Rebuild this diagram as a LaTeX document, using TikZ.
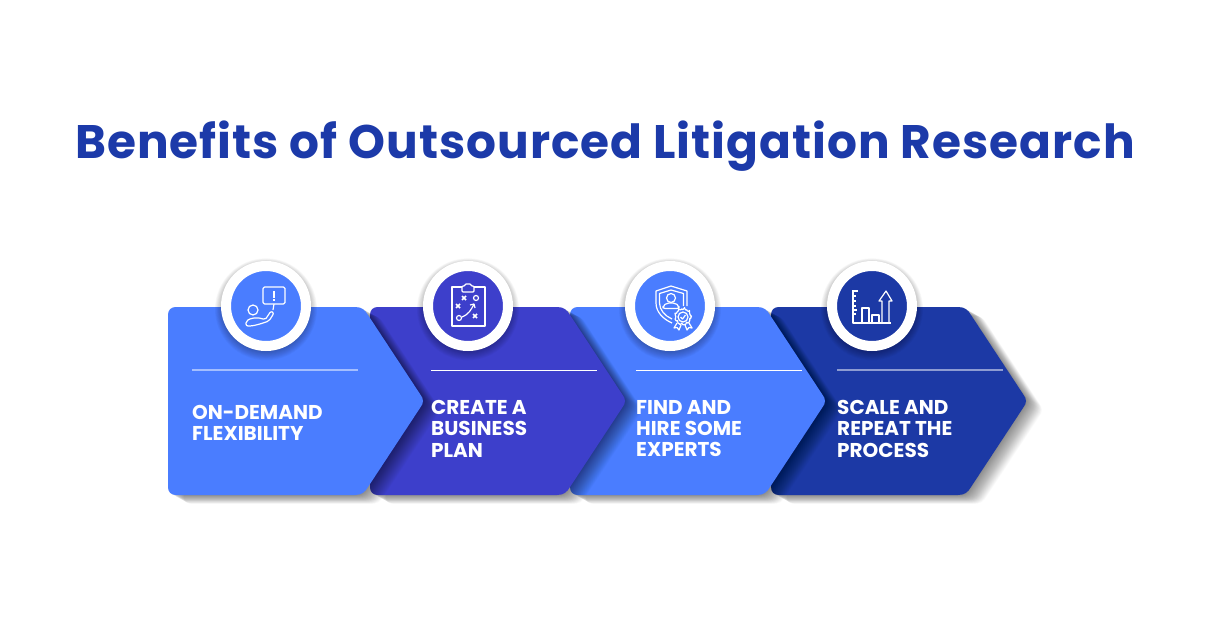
\documentclass[tikz,border=0pt]{standalone}
\usepackage{fontspec}
\setmainfont{Poppins}
\newfontfamily\titlefont[LetterSpace=2.1]{Poppins}
\newfontfamily\labelfont{Poppins}
\usetikzlibrary{positioning,calc}
\definecolor{titleblue}{HTML}{1C3AA9}
\definecolor{lightblue}{HTML}{4A7DFF}
\definecolor{midviolet}{HTML}{3D3FCB}
\definecolor{darkblue}{HTML}{1C39A5}

% arrow shaped panel, arg: left x
\newcommand{\panelshape}[1]{
  (#1+8,307) -- (#1+187,307) .. controls (#1+194,307) and (#1+197,310) .. (#1+200,315)
  -- (#1+252,394) .. controls (#1+256,399) and (#1+256,403) .. (#1+252,408)
  -- (#1+200,487) .. controls (#1+197,492) and (#1+194,495) .. (#1+187,495)
  -- (#1+8,495) .. controls (#1+3,495) and (#1,492) .. (#1,487)
  -- (#1,315) .. controls (#1,310) and (#1+3,307) .. (#1+8,307) -- cycle}
\newcommand{\panel}[2]{
  \foreach \g in {1,...,32}{
    \fill[black, opacity=0.014, yshift=-\g*0.28pt] \panelshape{#1+\g*0.5} ;
  }
  \fill[#2] \panelshape{#1};
}
% white ring with its shadow, args: name, centre x, fill colour
\newcommand{\badge}[3]{
  \foreach \g in {1,...,12}{
    \fill[black, opacity=0.028] (#2,{307.5+\g*0.15}) circle[radius={42+\g*0.75}];
  }
  \node[ring, fill=#3] (#1) at (#2,306) {};
}

\begin{document}
\begin{tikzpicture}[
    x=1pt, y=-1pt,
    ring/.style={circle, draw=white, line width=10pt, minimum size=80pt, inner sep=0pt},
    rule/.style={draw=white, line width=1pt},
    softrule/.style={line width=1.3pt},
    lbl/.style={font=\labelfont\bfseries\fontsize{20}{21.3}\selectfont, text=white, align=left, anchor=north west, inner sep=0pt,
        execute at begin node={\rule{0pt}{15pt}}},
    ico/.style={draw=white, line width=1.2pt, line join=round, fill=none}
]
    \useasboundingbox (0,0) rectangle (1209,636);
    \fill[white] (0,0) rectangle (1209,636);

    \node[font=\titlefont\bfseries\fontsize{47}{52}\selectfont, text=titleblue, inner sep=0pt] (title) at (605,146) {Benefits of Outsourced Litigation Research};

    % panels, last one first so each tip lies on the next
    \panel{771}{darkblue}
    \panel{570}{lightblue}
    \panel{370}{midviolet}
    \panel{168}{lightblue}

    % rules
    \draw[softrule, draw=white!50!lightblue] (192,370) -- (358,370);
    \draw[rule] (431,370.5) -- (597,370.5);
    \draw[rule] (636,370.5) -- (802,370.5);
    \draw[softrule, draw=white!50!darkblue] (837,370) -- (1003,370);

    % labels
    \node[lbl] (lblA) at (192,405) {ON-DEMAND\\FLEXIBILITY};
    \node[lbl] (lblB) at (431,400) {CREATE A\\BUSINESS\\PLAN};
    \node[lbl] (lblC) at (636,400) {FIND AND\\HIRE SOME\\EXPERTS};
    \node[lbl] (lblD) at (837,400) {SCALE AND\\REPEAT THE\\PROCESS};

    % badges
    \badge{ringA}{266}{lightblue}
    \badge{ringB}{468}{midviolet}
    \badge{ringC}{670}{lightblue}
    \badge{ringD}{872}{darkblue}

    % icon: hand and sign
    \begin{scope}[ico, shift={(ringA.center)}]
        \draw[rounded corners=1.5pt] (-3,-19) rectangle (19,-2);
        \draw[line width=1.6pt] (8,-15) -- (8,-8.5);
        \draw[line width=1.6pt] (8,-7) -- (8,-5);
        \draw (-13,4) circle[radius=5];
        \draw (8,-2) -- (7,4);
        \draw[rounded corners=2pt] (-20,20) -- (-20,15) -- (-14,12) -- (-5,12) -- (-1,14) -- (5,5) -- (8,7) -- (3,15) -- (-6,18) -- (-14,20) -- cycle;
    \end{scope}

    % icon: clipboard
    \begin{scope}[ico, shift={(ringB.center)}]
        \draw (-16,-19) rectangle (17,20);
        \fill[midviolet] (-6,-22) rectangle (6,-14);
        \draw[rounded corners=1pt] (-6,-20) -- (-3,-20) -- (-3,-22) -- (3,-22) -- (3,-20) -- (6,-20) -- (6,-14) -- (-6,-14) -- cycle;
        \foreach \p in {(-4,-8),(-10,0),(7,10)}{
            \draw[line width=1.5pt, shift={\p}] (-2,-2) -- (2,2) (-2,2) -- (2,-2);
        }
        \draw (8,-8) circle[radius=2.5];
        \draw (-9,12) circle[radius=2.5];
        \draw (-6,11) .. controls (1,8) and (3,4) .. (6,-2);
        \draw (2,-1) -- (6,-2) -- (7,2);
    \end{scope}

    % icon: shield with seal
    \begin{scope}[ico, shift={(ringC.center)}]
        \draw (1,-20) -- (-14,-15) -- (-14,-3) .. controls (-14,6) and (-7,13) .. (2,17);
        \draw (1,-20) -- (17,-15) -- (17,0);
        \draw (1,-16) -- (-10.5,-12.5) -- (-10.5,-3) .. controls (-10.5,4) and (-5,10) .. (2,13);
        \draw (1,-16) -- (13.5,-12.5) -- (13.5,0);
        \draw (1,-8) circle[radius=4.5];
        \draw[rounded corners=2pt] (-7,2.5) -- (-7,0) -- (-3,-3) -- (5,-3) -- (9,0) -- (9,2.5) -- cycle;
        \fill[lightblue] (13,11) circle[radius=9.5];
        \draw (13,11) circle[radius=5];
        \draw[rounded corners=1pt] (13,11) ++(0:8.5) \foreach \a in {20,40,...,340}{ -- ++(0,0) -- ($(13,11)+(\a:{mod(\a,40)==0 ? 8.5 : 7.2})$)} -- cycle;
        \draw (10.5,11) -- (12.5,13) -- (15.5,9);
        \draw (7,17) -- (4,22) -- (7,21.5) -- (9,24) -- (11,19);
        \draw (19,17) -- (22,22) -- (19,21.5) -- (17,24) -- (15,19);
    \end{scope}

    % icon: bar chart
    \begin{scope}[ico, shift={(ringD.center)}]
        \draw (-19,-16) -- (-19,17) -- (19,17);
        \foreach \q/\w in {-15/5,-10/3,-5/3,0/3,4/4,8/3}{
            \draw (-19,\q) -- ++(\w,0);
        }
        \draw (-10,17) -- (-10,2) -- (-3,2) -- (-3,17);
        \draw (0,17) -- (0,9) -- (7,9) -- (7,17);
        \draw (10,17) -- (10,-5) -- (7,-5) -- (14,-15) -- (20,-5) -- (17,-5) -- (17,17);
    \end{scope}
\end{tikzpicture}
\end{document}
